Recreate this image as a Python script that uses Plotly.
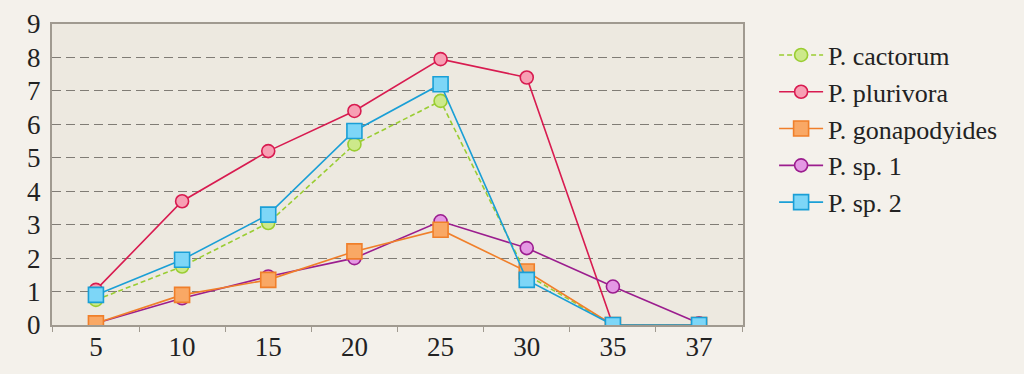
import plotly.graph_objects as go

categories = ["5", "10", "15", "20", "25", "30", "35", "37"]
cactorum = [0.75, 1.75, 3.05, 5.4, 6.7, 1.5, 0, 0]
plurivora = [1.05, 3.7, 5.2, 6.4, 7.95, 7.4, 0, 0]
gonapodyides = [0.05, 0.9, 1.35, 2.2, 2.85, 1.6, 0, 0]
sp1 = [0.05, 0.8, 1.45, 2.0, 3.1, 2.3, 1.15, 0.05]
sp2 = [0.9, 1.95, 3.3, 5.8, 7.2, 1.35, 0, 0]

series = [
    ("P. cactorum", cactorum, "#9acd32", "#cde98a", "circle", "5px,3px", 1, 13),
    ("P. plurivora", plurivora, "#d81b50", "#f7a0b4", "circle", "solid", 2, 13),
    ("P. gonapodyides", gonapodyides, "#f07f2a", "#f9a865", "square", "solid", 3, 15),
    ("P. sp. 1", sp1, "#9b1d8e", "#e498e4", "circle", "solid", 4, 13),
    ("P. sp. 2", sp2, "#1a9fd6", "#7dd6f7", "square", "solid", 5, 15),
]
draw_order = [1, 0, 3, 2, 4]

SERIF = "Liberation Serif, Times New Roman, serif"
PAPER = "#f4f1eb"

fig = go.Figure()
for i in draw_order:
    name, vals, col, fill, sym, dash, rank, size = series[i]
    fig.add_trace(go.Scatter(
        x=categories, y=vals, name=name, mode="lines+markers",
        line=dict(color=col, width=1.6, dash=dash),
        marker=dict(symbol=sym, size=size, color=fill, line=dict(color=col, width=1.6)),
        legendrank=rank,
    ))

fig.update_layout(
    width=1024, height=374,
    margin=dict(l=44, r=289, t=16, b=57),
    paper_bgcolor=PAPER,
    plot_bgcolor="#ede9e0",
    font=dict(family=SERIF, color="#222222"),
    showlegend=True,
    legend=dict(
        x=1.045, y=0.975, xanchor="left", yanchor="top",
        font=dict(family=SERIF, size=26, color="#222222"),
        bgcolor="rgba(0,0,0,0)", tracegroupgap=0, itemwidth=44,
    ),
)
fig.update_xaxes(
    type="category", categoryorder="array", categoryarray=categories,
    showgrid=False, showline=True, linecolor="#a09a90", linewidth=2, mirror=True,
    ticks="outside", ticklen=5, tickcolor="#a09a90", tickson="boundaries",
    ticklabelstandoff=-3,
    tickfont=dict(family=SERIF, size=27), zeroline=False, automargin=False,
)
fig.update_yaxes(
    range=[0, 9], dtick=1, tick0=0,
    showgrid=True, gridcolor="#807c75", griddash="9px,5px", gridwidth=1.2,
    showline=True, linecolor="#a09a90", linewidth=2, mirror=True,
    ticks="", ticklabelstandoff=4,
    tickfont=dict(family=SERIF, size=27), zeroline=False, automargin=False,
)

fig.write_html(
    "out.html",
    post_script="document.body.style.background='" + PAPER + "';",
)
